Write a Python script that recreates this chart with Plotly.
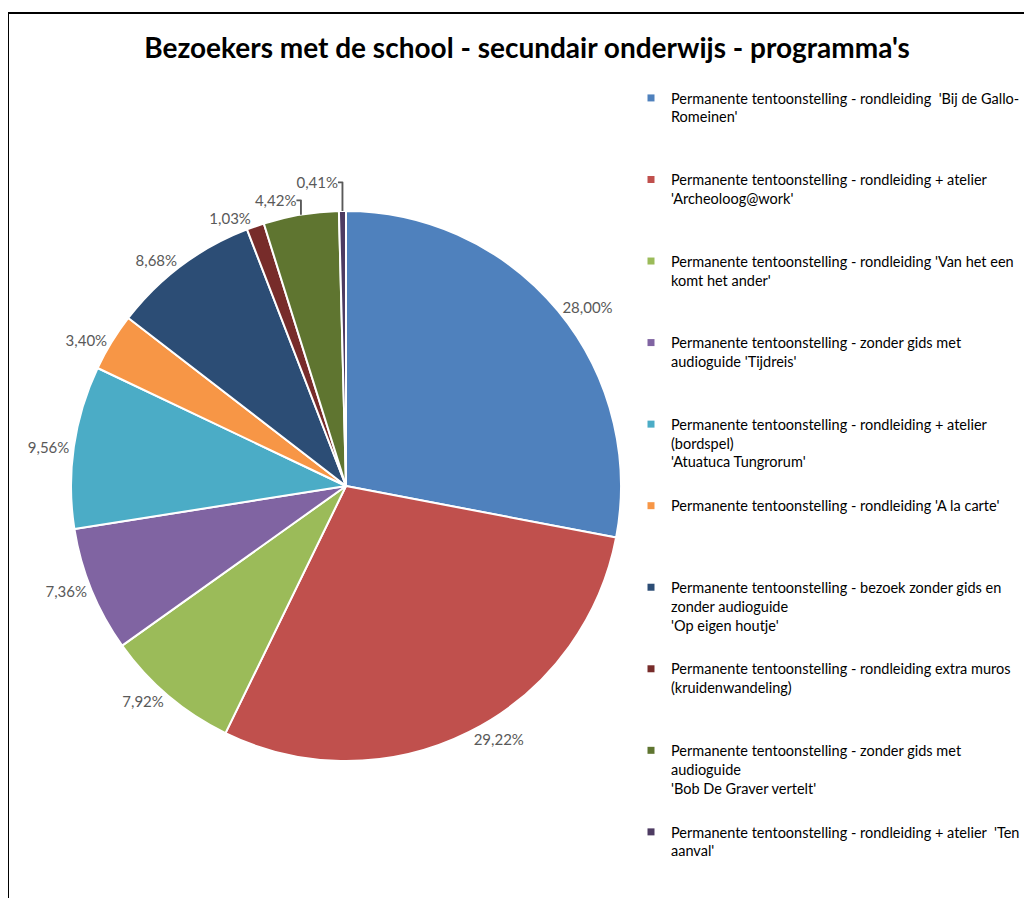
import plotly.graph_objects as go

W, H = 1032, 898
OFF = 8  # page body margin offset

categories = [
    "Permanente tentoonstelling - rondleiding  'Bij de Gallo-<br>Romeinen'",
    "Permanente tentoonstelling - rondleiding + atelier<br>'Archeoloog@work'",
    "Permanente tentoonstelling - rondleiding 'Van het een<br>komt het ander'",
    "Permanente tentoonstelling - zonder gids met<br>audioguide 'Tijdreis'",
    "Permanente tentoonstelling - rondleiding + atelier<br>(bordspel)<br>'Atuatuca Tungrorum'",
    "Permanente tentoonstelling - rondleiding 'A la carte'",
    "Permanente tentoonstelling - bezoek zonder gids en<br>zonder audioguide<br>'Op eigen houtje'",
    "Permanente tentoonstelling - rondleiding extra muros<br>(kruidenwandeling)",
    "Permanente tentoonstelling - zonder gids met<br>audioguide<br>'Bob De Graver vertelt'",
    "Permanente tentoonstelling - rondleiding + atelier  'Ten<br>aanval'",
]
values = [28.00, 29.22, 7.92, 7.36, 9.56, 3.40, 8.68, 1.03, 4.42, 0.41]
colors = ["#4F81BD", "#C0504D", "#9BBB59", "#8064A2", "#4BACC6",
          "#F79646", "#2C4D75", "#772C2A", "#5F7530", "#4D3B62"]

FONT = "Lato, 'Open Sans', sans-serif"


def px(x):
    return (x - OFF) / W


def py(y):
    return 1 - (y - OFF) / H


fig = go.Figure()
fig.add_trace(go.Pie(
    labels=categories,
    values=values,
    sort=False,
    direction="clockwise",
    rotation=0,
    marker=dict(colors=colors, line=dict(color="white", width=2)),
    textposition="outside",
    texttemplate="%{percent:.2%}",
    textfont=dict(family=FONT, size=15, color="#595959"),
    outsidetextfont=dict(family=FONT, size=15, color="#595959"),
    showlegend=False,
    domain=dict(x=[px(71), px(621)], y=[py(761), py(211)]),
    hoverinfo="label+percent",
))


def pad(lbl, n=3):
    k = lbl.count("<br>") + 1
    return lbl + "<br>\u00a0" * (n - k)


for c, col in zip(categories, colors):
    fig.add_trace(go.Scatter(
        x=[None], y=[None], mode="markers", name=pad(c),
        legendgroup=c,
        marker=dict(symbol="square", size=7, color=col),
    ))

fig.update_xaxes(visible=False)
fig.update_yaxes(visible=False)

fig.update_layout(
    width=W, height=H,
    margin=dict(l=0, r=0, t=0, b=0),
    paper_bgcolor="white", plot_bgcolor="white",
    separators=",.",
    title=dict(
        text="<b>Bezoekers met de school - secundair onderwijs - programma's</b>",
        x=px(527), xanchor="center", y=py(48), yanchor="middle",
        font=dict(family=FONT, size=28, color="black"),
    ),
    legend=dict(
        x=px(631), xanchor="left", y=py(82), yanchor="top",
        font=dict(family=FONT, size=14.5, color="black"),
        valign="top", tracegroupgap=22, itemwidth=30,
        bgcolor="rgba(0,0,0,0)",
    ),
    shapes=[dict(type="rect", xref="paper", yref="paper",
                 x0=px(8), x1=1.2, y0=-0.2, y1=py(13),
                 line=dict(color="black", width=2), layer="below")],
)

fig.write_html("out.html")
